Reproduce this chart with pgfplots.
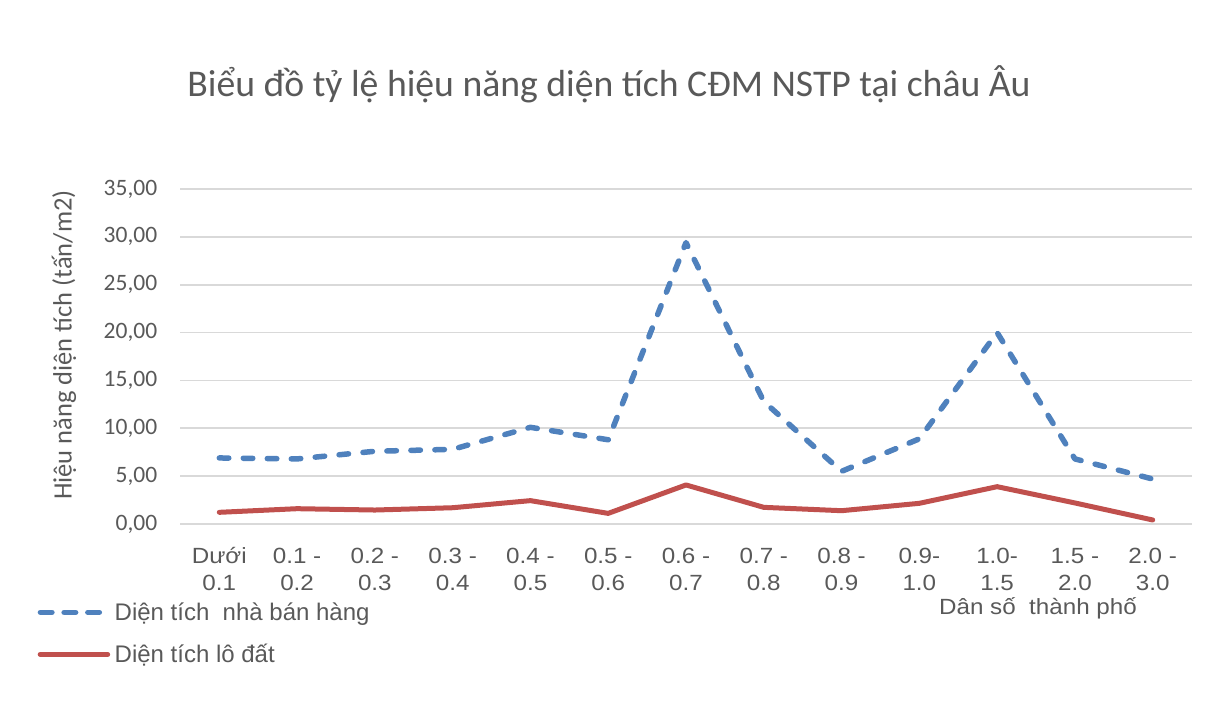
\documentclass[border=0pt]{standalone}
\usepackage{fontspec}
\usepackage{pgfplots}
\pgfplotsset{compat=1.18}
\newfontfamily\carlito{Carlito}
\newfontfamily\arialf{Liberation Sans}
\newfontfamily\arialw[FakeStretch=1.1]{Liberation Sans}
\definecolor{myblue}{HTML}{4F81BD}
\definecolor{myred}{HTML}{C0504D}
\definecolor{txtgray}{HTML}{595959}
\definecolor{gridgray}{HTML}{D9D9D9}
\begin{document}
\begin{tikzpicture}
\path[use as bounding box] (0,0) rectangle (1215pt,718pt);
\begin{axis}[
  at={(180.4pt,194pt)}, anchor=south west,
  scale only axis, width=1011.2pt, height=335pt,
  xmin=-0.5, xmax=12.5, ymin=0, ymax=35,
  ytick={0,5,...,35},
  xtick={0,...,12},
  xticklabels={{\strut Dưới\\0.1},{\strut 0.1 -\\0.2},{\strut 0.2 -\\0.3},{\strut 0.3 -\\0.4},{\strut 0.4 -\\0.5},{\strut 0.5 -\\0.6},{\strut 0.6 -\\0.7},{\strut 0.7 -\\0.8},{\strut 0.8 -\\0.9},{\strut 0.9-\\1.0},{\strut 1.0-\\1.5},{\strut 1.5 -\\2.0},{\strut 2.0 -\\3.0}},
  axis line style={draw=none},
  major tick length=0pt,
  ymajorgrids, grid style={gridgray, line width=1.6pt},
  /pgf/number format/.cd, fixed, fixed zerofill, precision=2, use comma, assume math mode=true,
  /pgfplots/.cd,
  yticklabel style={font=\carlito\fontsize{23.5}{28}\selectfont, text=txtgray, inner sep=0pt, xshift=-23pt},
  xticklabel style={font=\arialw\fontsize{22}{26.7}\selectfont, text=txtgray, align=center, inner sep=0pt, anchor=north, yshift=-20.6pt},
  title={Biểu đồ tỷ lệ hiệu năng diện tích CĐM NSTP tại châu Âu},
  title style={font=\carlito\fontsize{37.7}{44}\selectfont, text=txtgray, at={(axis description cs:0.4239,1.2576)}, anchor=base, inner sep=0pt},
  ylabel={Hiệu năng diện tích (tấn/m2)},
  ylabel style={font=\carlito\fontsize{26.5}{31}\selectfont, text=txtgray, at={(axis description cs:-0.1151,0.534)}, anchor=center, rotate=0},
  xlabel={Dân số\ \ thành phố},
  xlabel style={font=\arialw\fontsize{22}{27}\selectfont, text=txtgray, at={(axis description cs:0.8481,-0.2716)}, anchor=base, inner sep=0pt},
  legend style={draw=none, fill=none, at={(axis description cs:-0.1443,-0.3269)}, anchor=west,
    font=\arialf\fontsize{24}{29}\selectfont, text=txtgray, row sep=19.5pt, nodes={inner sep=1.5pt}, column sep=3pt},
  legend cell align=left,
]
\addplot[myblue, line width=5.5pt, line cap=round, line join=round, dash pattern=on 9.5pt off 14.5pt,
  legend image code/.code={\draw[myblue, line width=5.5pt, line cap=round, dash pattern=on 11.5pt off 12.2pt] (2.75pt,0pt) -- (61.65pt,0pt);}]
  coordinates {(0,6.9) (1,6.8) (2,7.6) (3,7.8) (4,10.1) (5,8.8) (6,29.4) (7,12.8) (8,5.5) (9,8.9) (10,20.0) (11,6.8) (12,4.7)};
\addlegendentry{Diện tích\ \ nhà bán hàng}
\addplot[myred, line width=5pt, line cap=round, line join=round,
  legend image code/.code={\draw[myred, line width=5pt, line cap=round] (2.5pt,0pt) -- (70pt,0pt);}]
  coordinates {(0,1.22) (1,1.6) (2,1.46) (3,1.7) (4,2.44) (5,1.11) (6,4.08) (7,1.74) (8,1.39) (9,2.16) (10,3.9) (11,2.2) (12,0.42)};
\addlegendentry{Diện tích lô đất}
\end{axis}
\end{tikzpicture}
\end{document}
